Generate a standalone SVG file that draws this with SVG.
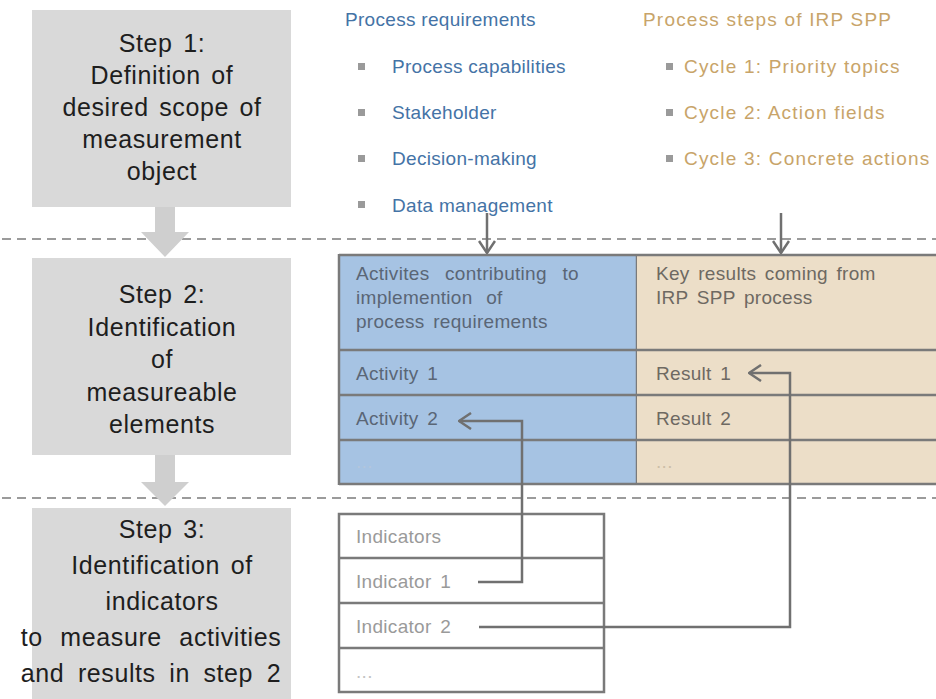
<svg xmlns="http://www.w3.org/2000/svg" width="936" height="699" viewBox="0 0 936 699">
<defs>
<style>
.step{fill:#d9d9d9}
.stxt{font-family:"Liberation Sans",Arial,sans-serif;font-size:25px;fill:#1e1e1e;text-anchor:middle;letter-spacing:0.6px;word-spacing:3px}
.sarrow{fill:#cfcfcf}
.dash{stroke:#9b9b9b;stroke-width:2;stroke-dasharray:9 6;fill:none}
.hdr{font-family:"Liberation Sans",Arial,sans-serif;font-size:19px;letter-spacing:0.3px}
.blue{fill:#4473a6}
.tan{fill:#c8a469;letter-spacing:1.2px}
.bul{fill:#9a9a9a}
.cell{stroke:#7a7a7a;stroke-width:2.5}
.ttxt{font-family:"Liberation Sans",Arial,sans-serif;font-size:19px;letter-spacing:0.3px;word-spacing:3px}
.tb{fill:#5a6676}
.tt{fill:#6e6962}
.itxt{fill:#9a9a9a}
.conn{stroke:#707070;stroke-width:2.5;fill:none}
</style>
<marker id="vhead" viewBox="0 0 14 18" refX="13" refY="9" markerWidth="14" markerHeight="18" markerUnits="userSpaceOnUse" orient="auto">
<path d="M1,1 L13,9 L1,17" fill="none" stroke="#707070" stroke-width="2.5"/>
</marker>
</defs>
<rect width="936" height="699" fill="#ffffff"/>

<g id="dividers">
<line class="dash" x1="2" y1="239" x2="936" y2="239"/>
<line class="dash" x1="2" y1="498" x2="936" y2="498"/>
</g>

<g id="step1">
<rect class="step" x="32" y="10" width="259" height="197"/>
<text class="stxt"><tspan x="162" y="52">Step 1:</tspan><tspan x="162" y="84">Definition of</tspan><tspan x="162" y="116">desired scope of</tspan><tspan x="162" y="148">measurement</tspan><tspan x="162" y="180">object</tspan></text>
</g>

<g id="step2">
<rect class="step" x="32" y="258" width="259" height="197"/>
<text class="stxt"><tspan x="162" y="303">Step 2:</tspan><tspan x="162" y="336">Identification</tspan><tspan x="162" y="368">of</tspan><tspan x="162" y="401">measureable</tspan><tspan x="162" y="433">elements</tspan></text>
</g>

<g id="step3">
<rect class="step" x="32" y="508" width="259" height="195"/>
<text class="stxt"><tspan x="162" y="538">Step 3:</tspan><tspan x="162" y="574">Identification of</tspan><tspan x="162" y="610">indicators</tspan><tspan x="151" y="646" word-spacing="10px">to measure activities</tspan><tspan x="151" y="682" word-spacing="6px">and results in step 2</tspan></text>
</g>

<g id="step-arrows">
<path class="sarrow" d="M155,207 L175,207 L175,232 L189,232 L165,257 L141,232 L155,232 Z"/>
<path class="sarrow" d="M155,455 L175,455 L175,482 L189,482 L165,506 L141,482 L155,482 Z"/>
</g>

<g id="process-requirements">
<text class="hdr blue" x="345" y="26">Process requirements</text>
<rect class="bul" x="358" y="63" width="7" height="7"/>
<text class="hdr blue" x="392" y="73">Process capabilities</text>
<rect class="bul" x="358" y="109" width="7" height="7"/>
<text class="hdr blue" x="392" y="119">Stakeholder</text>
<rect class="bul" x="358" y="155" width="7" height="7"/>
<text class="hdr blue" x="392" y="165">Decision-making</text>
<rect class="bul" x="358" y="201" width="7" height="7"/>
<text class="hdr blue" x="392" y="212">Data management</text>
</g>

<g id="process-steps">
<text class="hdr tan" x="643" y="26">Process steps of IRP SPP</text>
<rect class="bul" x="666" y="63" width="7" height="7"/>
<text class="hdr tan" x="684" y="73">Cycle 1: Priority topics</text>
<rect class="bul" x="666" y="109" width="7" height="7"/>
<text class="hdr tan" x="684" y="119">Cycle 2: Action fields</text>
<rect class="bul" x="666" y="155" width="7" height="7"/>
<text class="hdr tan" x="684" y="165">Cycle 3: Concrete actions</text>
</g>

<g id="activities-table">
<rect x="339" y="255" width="298" height="229" fill="#a6c3e3"/>
<line class="cell" x1="339" y1="255" x2="637" y2="255"/>
<line class="cell" x1="339" y1="350" x2="637" y2="350"/>
<line class="cell" x1="339" y1="395" x2="637" y2="395"/>
<line class="cell" x1="339" y1="440" x2="637" y2="440"/>
<line class="cell" x1="339" y1="484" x2="637" y2="484"/>
<line class="cell" x1="339" y1="254" x2="339" y2="485"/>
<line class="cell" x1="637" y1="254" x2="637" y2="485"/>
<text class="ttxt tb"><tspan x="356" y="280" word-spacing="10px">Activites contributing to</tspan><tspan x="356" y="304" word-spacing="8px">implemention of</tspan><tspan x="356" y="328">process requirements</tspan></text>
<text class="ttxt tb" x="356" y="380">Activity 1</text>
<text class="ttxt tb" x="356" y="425">Activity 2</text>
<text class="ttxt" x="356" y="468" fill="#b3c6dc">...</text>
</g>

<g id="results-table">
<rect x="637" y="255" width="303" height="229" fill="#ecdec8"/>
<line class="cell" x1="637" y1="255" x2="940" y2="255"/>
<line class="cell" x1="637" y1="350" x2="940" y2="350"/>
<line class="cell" x1="637" y1="395" x2="940" y2="395"/>
<line class="cell" x1="637" y1="440" x2="940" y2="440"/>
<line class="cell" x1="637" y1="484" x2="940" y2="484"/>
<text class="ttxt tt"><tspan x="656" y="280">Key results coming from</tspan><tspan x="656" y="304">IRP SPP process</tspan></text>
<text class="ttxt tt" x="656" y="380">Result 1</text>
<text class="ttxt tt" x="656" y="425">Result 2</text>
<text class="ttxt" x="656" y="468" fill="#cdbfa8">...</text>
</g>

<g id="indicators-table">
<rect x="339" y="514" width="265" height="178" fill="#ffffff" class="cell"/>
<line class="cell" x1="339" y1="558" x2="604" y2="558"/>
<line class="cell" x1="339" y1="603" x2="604" y2="603"/>
<line class="cell" x1="339" y1="648" x2="604" y2="648"/>
<text class="ttxt itxt" x="356" y="543">Indicators</text>
<text class="ttxt itxt" x="356" y="588">Indicator 1</text>
<text class="ttxt itxt" x="356" y="633">Indicator 2</text>
<text class="ttxt" x="356" y="678" fill="#c4c4c4">...</text>
</g>

<g id="connectors">
<path class="conn" d="M487,213 L487,253" marker-end="url(#vhead)"/>
<path class="conn" d="M781,213 L781,253" marker-end="url(#vhead)"/>
<path class="conn" d="M478,582 L522,582 L522,421 L459,421" marker-end="url(#vhead)"/>
<path class="conn" d="M479,627 L790,627 L790,373 L749,373" marker-end="url(#vhead)"/>
</g>
</svg>
